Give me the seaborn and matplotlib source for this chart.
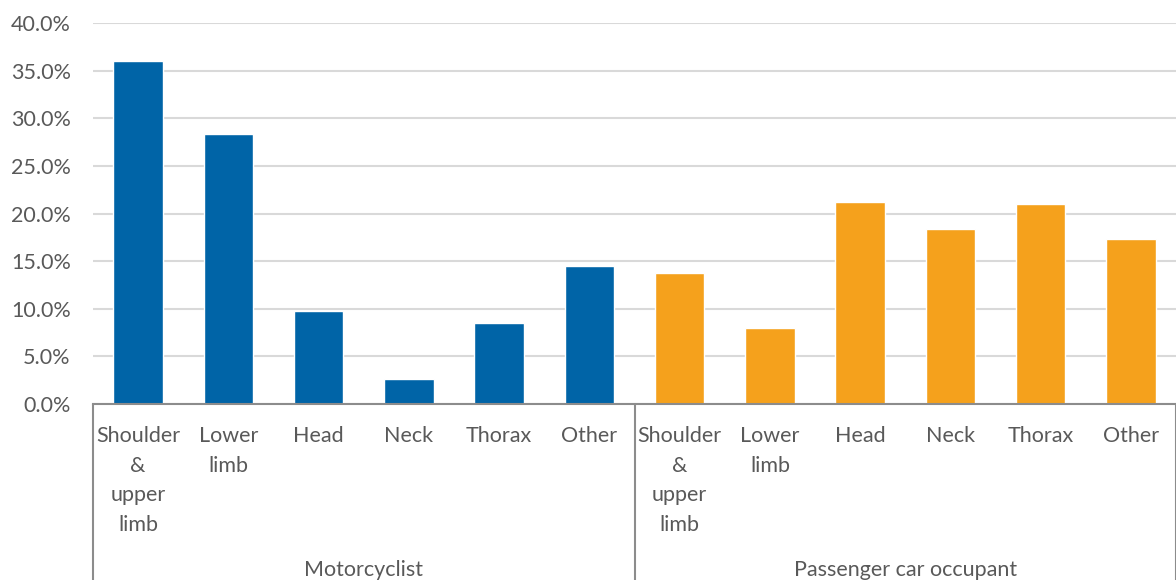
import pandas as pd
import matplotlib
matplotlib.use("Agg")
import matplotlib.pyplot as plt
import matplotlib.transforms as mtransforms
import seaborn as sns

# data (percent)
groups = ["Motorcyclist", "Passenger car occupant"]
parts = ["Shoulder\n&\nupper\nlimb", "Lower\nlimb", "Head", "Neck", "Thorax", "Other"]
motorcyclist = [36.0, 28.3, 9.8, 2.6, 8.5, 14.5]
car_occupant = [13.8, 8.0, 21.2, 18.4, 21.0, 17.3]
colors = ["#0064A7", "#F5A11C"]
yticks = [0, 5, 10, 15, 20, 25, 30, 35, 40]

rows = []
for g, vals in zip(groups, [motorcyclist, car_occupant]):
    for p, v in zip(parts, vals):
        rows.append({"group": g, "part": p, "key": g + "|" + p, "value": v})
df = pd.DataFrame(rows)

sns.set_style("white")
plt.rcParams["font.family"] = ["Lato", "DejaVu Sans"]
text_color = "#595959"
fs = 15.5

fig = plt.figure(figsize=(11.76, 5.8), dpi=100)
ax = fig.add_axes([93 / 1176, 1 - 404 / 580, 1 - 93 / 1176, 381 / 580])

sns.barplot(data=df, x="key", y="value", hue="group", palette=colors,
            dodge=False, width=0.55, legend=False, ax=ax, saturation=1)

ax.set_ylim(0, 40)
ax.set_xlim(-0.5, len(df) - 0.5)
ax.set_yticks(yticks)
ax.set_yticklabels([f"{t:.1f}%" for t in yticks])
ax.yaxis.grid(True, color="#d9d9d9", linewidth=1.5)
ax.set_axisbelow(True)
ax.set_xticks(range(len(df)))
ax.set_xticklabels(df["part"], linespacing=1.6)
ax.set_xlabel("")
ax.set_ylabel("")
ax.tick_params(axis="both", length=0, labelsize=fs, labelcolor=text_color)
ax.tick_params(axis="y", pad=16)
ax.tick_params(axis="x", pad=16)

for s in ["left", "right", "top"]:
    ax.spines[s].set_visible(False)
ax.spines["bottom"].set_color("#8c8c8c")
ax.spines["bottom"].set_linewidth(1.5)

# group separators and group labels
trans = mtransforms.blended_transform_factory(ax.transData, ax.transAxes)
n = len(parts)
for i in range(len(groups) + 1):
    xs = i * n - 0.5
    ax.plot([xs, xs], [0, -0.47], transform=trans, color="#8c8c8c",
            linewidth=1.5, clip_on=False)
for i, g in enumerate(groups):
    ax.text(i * n + (n - 1) / 2, -0.435, g, transform=trans, ha="center",
            va="center", fontsize=fs, color=text_color)

fig.savefig("out.png", dpi=100)
